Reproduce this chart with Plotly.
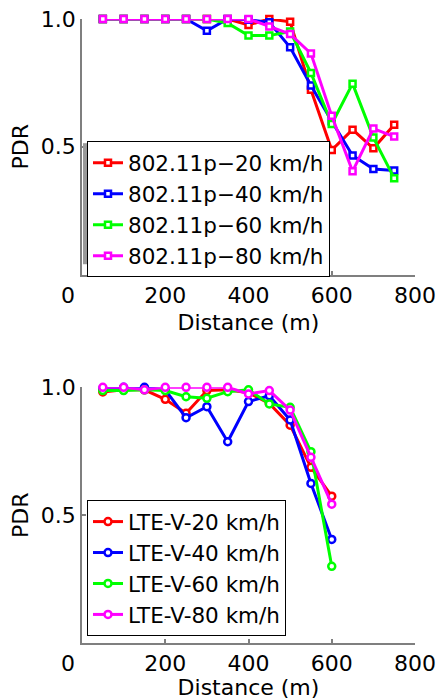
import plotly.graph_objects as go

# ---------------- data ----------------
dist_p = [50, 100, 150, 200, 250, 300, 350, 400, 450, 500, 550, 600, 650, 700, 750]
p_20 = [1.0, 1.0, 1.0, 1.0, 1.0, 1.0, 1.0, 0.977, 1.0, 0.989, 0.723, 0.487, 0.567, 0.494, 0.586]
p_40 = [1.0, 1.0, 1.0, 1.0, 1.0, 0.954, 1.0, 0.997, 0.987, 0.889, 0.74, 0.60, 0.466, 0.413, 0.407]
p_60 = [1.0, 1.0, 1.0, 1.0, 1.0, 1.0, 0.984, 0.935, 0.935, 0.951, 0.789, 0.589, 0.747, 0.536, 0.377]
p_80 = [1.0, 1.0, 1.0, 1.0, 1.0, 1.0, 1.0, 1.0, 0.971, 0.941, 0.865, 0.621, 0.404, 0.571, 0.54]

dist_l = [50, 100, 150, 200, 250, 300, 350, 400, 450, 500, 550, 600]
l_20 = [0.982, 0.99, 0.99, 0.953, 0.898, 0.987, 0.99, 0.979, 0.937, 0.852, 0.687, 0.574]
l_40 = [0.995, 1.0, 1.0, 0.99, 0.881, 0.924, 0.787, 0.944, 0.967, 0.872, 0.624, 0.405]
l_60 = [0.987, 0.987, 0.99, 0.987, 0.963, 0.957, 0.983, 0.99, 0.935, 0.922, 0.748, 0.30]
l_80 = [1.0, 1.0, 0.99, 1.0, 1.0, 1.0, 1.0, 0.974, 0.987, 0.911, 0.726, 0.543]

names_p = ["802.11p\u221220 km/h", "802.11p\u221240 km/h", "802.11p\u221260 km/h", "802.11p\u221280 km/h"]
names_l = ["LTE-V-20 km/h", "LTE-V-40 km/h", "LTE-V-60 km/h", "LTE-V-80 km/h"]
colors = ["#ff0000", "#0000ff", "#00ff00", "#ff00ff"]

x_ticks = [0, 200, 400, 600, 800]
x_ticktext = ["0\u00a0\u00a0\u00a0\u00a0", "200", "400", "600", "800"]
y_ticks = [0.5, 1.0]
y_ticktext = ["0.5", "1.0"]

FONT = "DejaVu Sans"
fig = go.Figure()

for i, (ys, nm) in enumerate(zip([p_20, p_40, p_60, p_80], names_p)):
    fig.add_trace(go.Scatter(
        x=dist_p, y=ys, name=nm, mode="lines+markers",
        xaxis="x", yaxis="y", legend="legend",
        line=dict(color=colors[i], width=3),
        marker=dict(symbol="square", size=6, color="white",
                    line=dict(color=colors[i], width=2.5)),
        cliponaxis=False))

for i, (ys, nm) in enumerate(zip([l_20, l_40, l_60, l_80], names_l)):
    fig.add_trace(go.Scatter(
        x=dist_l, y=ys, name=nm, mode="lines+markers",
        xaxis="x2", yaxis="y2", legend="legend2",
        line=dict(color=colors[i], width=3),
        marker=dict(symbol="circle", size=7, color="white",
                    line=dict(color=colors[i], width=2.5)),
        cliponaxis=False))

axis_common = dict(showgrid=False, zeroline=False, showline=True, automargin=False,
                   linecolor="#7f7f7f", linewidth=1.5,
                   ticks="inside", ticklen=4, tickcolor="#7f7f7f", tickwidth=1.5,
                   tickfont=dict(family=FONT, size=22, color="black"))

xa = dict(axis_common, range=[0, 800], tickvals=x_ticks, ticktext=x_ticktext,
          title=dict(text="Distance (m)", font=dict(family=FONT, size=22, color="black"), standoff=8))
ya = dict(axis_common, range=[0, 1], tickvals=y_ticks, ticktext=y_ticktext,
          title=dict(text="PDR", font=dict(family=FONT, size=22, color="black"), standoff=6))

legend_common = dict(font=dict(family=FONT, size=21.5, color="black"),
                     bgcolor="white", bordercolor="black", borderwidth=1,
                     xanchor="left", yanchor="top", tracegroupgap=0,
                     itemwidth=30)

fig.update_layout(
    width=436, height=700,
    margin=dict(l=82, r=21, t=19, b=57, autoexpand=False),
    paper_bgcolor="white", plot_bgcolor="white",
    xaxis=dict(xa, domain=[0, 1], anchor="y"),
    yaxis=dict(ya, domain=[0.5905, 1], anchor="x"),
    xaxis2=dict(xa, domain=[0, 1], anchor="y2"),
    yaxis2=dict(ya, domain=[0, 0.4098], anchor="x2"),
    legend=dict(legend_common, x=0.015, y=0.804),
    legend2=dict(legend_common, x=0.015, y=0.229),
    shapes=[dict(type="rect", xref="paper", yref="paper",
                 x0=0.003, x1=0.016, y0=0.607, y1=0.801,
                 fillcolor="#9a9a9a", line=dict(width=0), layer="above")],
    showlegend=True,
)

fig.write_html("out.html", config={"displayModeBar": False},
               post_script="document.body.style.margin='0';document.body.style.overflow='hidden';")
